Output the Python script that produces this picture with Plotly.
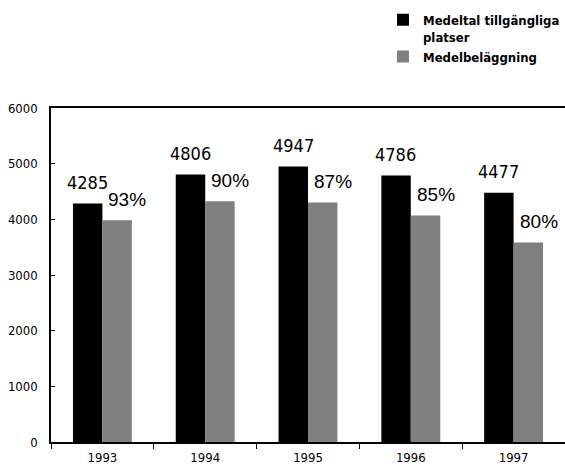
import plotly.graph_objects as go

years = ["1993", "1994", "1995", "1996", "1997"]
platser = [4285, 4806, 4947, 4786, 4477]
belaggning_pct = [93, 90, 87, 85, 80]
belaggning = [round(p * q / 100) for p, q in zip(platser, belaggning_pct)]
y_ticks = [0, 1000, 2000, 3000, 4000, 5000, 6000]

NARROW = "DejaVu Sans Condensed, Liberation Sans Narrow, sans-serif"

fig = go.Figure()
fig.add_trace(go.Bar(x=years, y=platser, name="Medeltal tillgängliga<br>platser",
                     marker=dict(color="#000000", line=dict(width=0))))
fig.add_trace(go.Bar(x=years, y=belaggning, name="Medelbeläggning",
                     marker=dict(color="#808080", line=dict(width=0))))

for i, v in enumerate(platser):
    fig.add_annotation(x=i, y=v, xref="x", yref="y", text=str(v), showarrow=False,
                       xshift=-15, yshift=21, yanchor="middle",
                       font=dict(family=NARROW, size=18, color="#000"))
for i, (v, p) in enumerate(zip(belaggning, belaggning_pct)):
    fig.add_annotation(x=i, y=v, xref="x", yref="y", text=f"{p}%", showarrow=False,
                       xshift=25, yshift=21, yanchor="middle",
                       font=dict(family="Liberation Sans, Arial, sans-serif", size=19, color="#000"))

fig.update_layout(
    width=565, height=468,
    margin=dict(l=51, r=0, t=108, b=26),
    paper_bgcolor="white", plot_bgcolor="white",
    barmode="group", bargap=0.427, bargroupgap=0,
    showlegend=True,
    legend=dict(x=0.717, y=0.99, yref="container", xanchor="left", yanchor="top",
                valign="top", tracegroupgap=0, borderwidth=0, bgcolor="rgba(0,0,0,0)",
                font=dict(family=NARROW, size=13, color="#000", weight="bold"),
                itemclick=False),
    xaxis=dict(type="category", range=[-0.5, 4.5], showline=True, linecolor="#000", linewidth=1.5,
               mirror=True, ticks="outside", ticklen=5, tickcolor="#000", tickson="boundaries",
               showgrid=False, zeroline=False, ticklabelstandoff=3,
               tickfont=dict(family=NARROW, size=13, color="#000")),
    yaxis=dict(range=[0, 6000], tickvals=y_ticks, showline=True, linecolor="#000", linewidth=1.5,
               ticks="inside", ticklen=4, tickcolor="#000", showgrid=False, zeroline=False,
               ticklabelstandoff=9,
               tickfont=dict(family=NARROW, size=13, color="#000")),
)

fig.write_html("out.html")
